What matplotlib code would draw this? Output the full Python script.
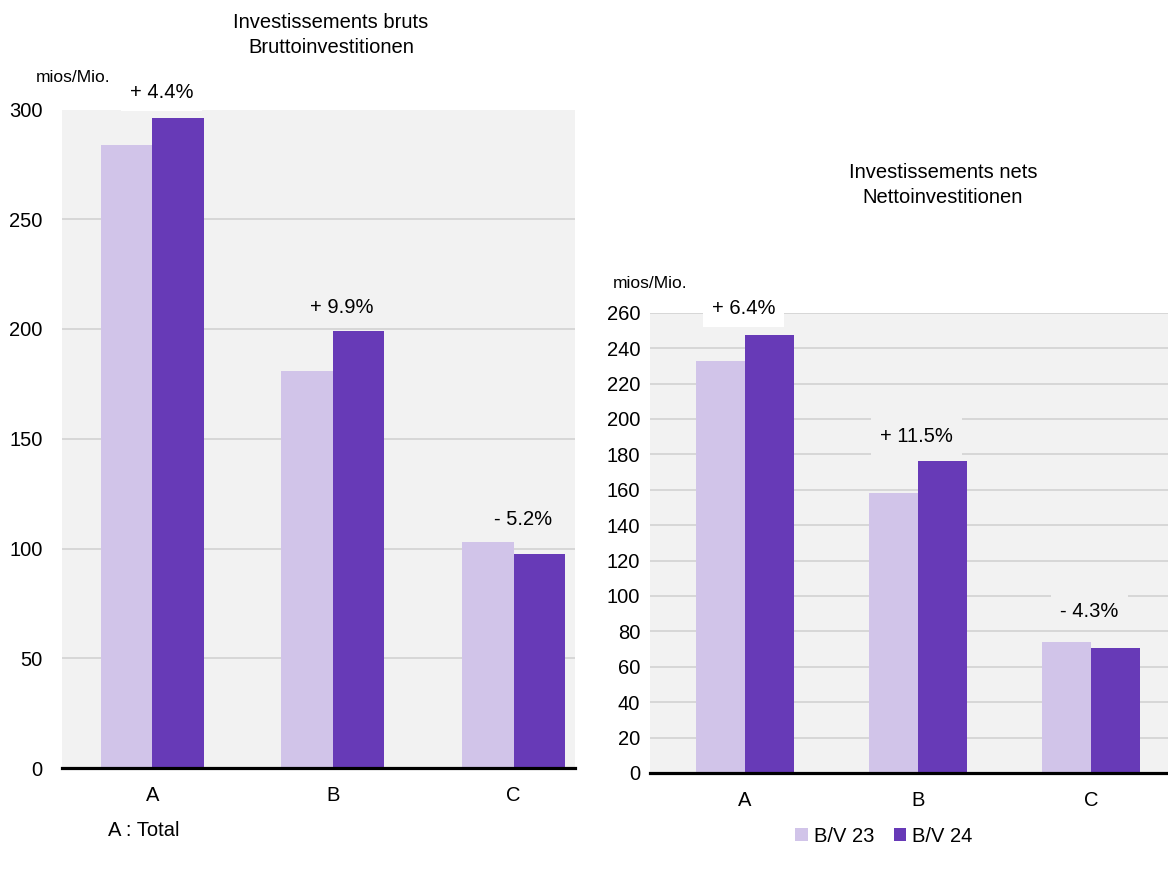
import numpy as np
import matplotlib
matplotlib.use("Agg")
import matplotlib.pyplot as plt

plt.rcParams['font.family'] = ['Liberation Sans', 'DejaVu Sans']

# Données
categories = ['A', 'B', 'C']
series_names = ['B/V 23', 'B/V 24']
bruts_23 = [283.7, 181.0, 103.1]
bruts_24 = [296.2, 198.9, 97.7]
bruts_pct = ['+ 4.4%', '+ 9.9%', '- 5.2%']
nets_23 = [232.5, 158.3, 74.0]
nets_24 = [247.4, 176.5, 70.8]
nets_pct = ['+ 6.4%', '+ 11.5%', '- 4.3%']

light = '#d1c4e9'
dark = '#673ab7'
bg = '#f2f2f2'
grid_c = '#d0d0d0'
fs = 14.5

fig = plt.figure(figsize=(11.68, 8.76), dpi=100)
ax1 = fig.add_axes([62/1168, 1-768/876, 513/1168, (768-109.5)/876])
ax2 = fig.add_axes([650/1168, 1-773/876, 518/1168, (773-312.7)/876])


def draw_panel(ax, v23, v24, pct, ymax, step, xlim, lbl_dx, lbl_off, ypad):
    x = np.arange(len(categories))
    w = 0.285
    ax.set_facecolor(bg)
    ax.bar(x - w/2, v23, w, color=light, zorder=3, label=series_names[0])
    ax.bar(x + w/2, v24, w, color=dark, zorder=3, label=series_names[1])
    ax.set_xlim(*xlim)
    ax.set_ylim(0, ymax)
    ax.set_yticks(np.arange(0, ymax + 1, step))
    ax.set_xticks(x)
    ax.set_xticklabels(categories)
    ax.yaxis.grid(True, color=grid_c, linewidth=1.1, zorder=1)
    ax.set_axisbelow(True)
    for s in ['top', 'right', 'left']:
        ax.spines[s].set_visible(False)
    ax.spines['bottom'].set_color('black')
    ax.spines['bottom'].set_linewidth(2.3)
    ax.spines['bottom'].set_zorder(5)
    ax.tick_params(axis='both', length=0, labelsize=fs)
    ax.tick_params(axis='x', pad=13)
    ax.tick_params(axis='y', pad=ypad)
    for i, p in enumerate(pct):
        top = max(v23[i], v24[i]) + lbl_off[i]
        fc = 'white' if top > ymax * 0.97 else bg
        ax.text(i + lbl_dx, top, p, ha='center', va='center', fontsize=fs,
                zorder=4, bbox=dict(boxstyle='square,pad=0.45', fc=fc, ec='none'))


draw_panel(ax1, bruts_23, bruts_24, bruts_pct, 300, 50, (-0.5, 2.34), 0.05,
           [11.5, 11.0, 10.0], 14)
draw_panel(ax2, nets_23, nets_24, nets_pct, 260, 20, (-0.55, 2.445), -0.01,
           [15.0, 13.5, 17.0], 7)

fig.text(331/1168, 1-35/876, 'Investissements bruts\nBruttoinvestitionen',
         ha='center', va='center', fontsize=fs, linespacing=1.4)
fig.text(943/1168, 1-185/876, 'Investissements nets\nNettoinvestitionen',
         ha='center', va='center', fontsize=fs, linespacing=1.4)
fig.text(36/1168, 1-77/876, 'mios/Mio.', ha='left', va='center', fontsize=12.5)
fig.text(613/1168, 1-283/876, 'mios/Mio.', ha='left', va='center', fontsize=12.5)
fig.text(108/1168, 1-831/876, 'A : Total', ha='left', va='center', fontsize=fs)

handles, labels = ax2.get_legend_handles_labels()
fig.legend(handles, labels, loc='center', bbox_to_anchor=(884/1168, 1-836/876),
           ncol=2, frameon=False, fontsize=fs, handlelength=0.6, handleheight=0.6,
           handletextpad=0.3, columnspacing=1.0)

fig.savefig('out.png', dpi=100)
